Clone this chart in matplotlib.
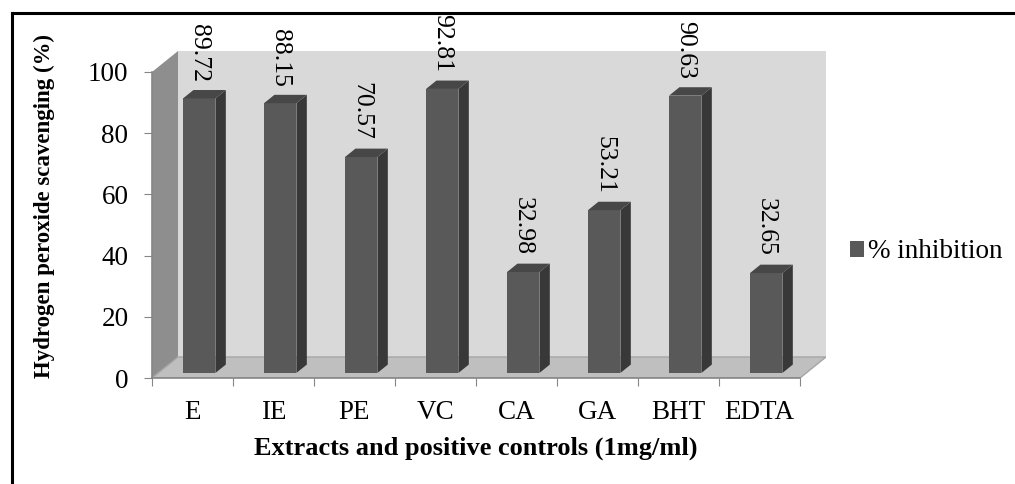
import matplotlib
matplotlib.use("Agg")
import matplotlib.pyplot as plt
from matplotlib.patches import Polygon
from matplotlib.lines import Line2D

# dados
categorias = ["E", "IE", "PE", "VC", "CA", "GA", "BHT", "EDTA"]
inibicao = [89.72, 88.15, 70.57, 92.81, 32.98, 53.21, 90.63, 32.65]
rotulos = ["89.72", "88.15", "70.57", "92.81", "32.98", "53.21", "90.63", "32.65"]
serie = "% inhibition"
yticks = [0, 20, 40, 60, 80, 100]

plt.rcParams["font.family"] = ["Liberation Serif", "DejaVu Serif"]

W, H = 1015, 484
fig = plt.figure(figsize=(W / 100, H / 100), dpi=100)

# eixo principal em pixels: x de 152 a 826, y de 378 a 51
ax = fig.add_axes([152 / W, (H - 378) / H, 674 / W, 327 / H])
ax.set_facecolor("none")

n = len(categorias)
DX, DY = 0.321, 6.86          # profundidade do "3D"
f1, f2 = 0.24, 0.64           # frente / fundo das barras
a, w = 0.306, 0.40            # posição e largura da face frontal
fs = 19.5

ax.set_xlim(0, n + DX)
ax.set_ylim(0, 100 + DY)

# paredes e chão
ax.add_patch(Polygon([(DX, DY), (n + DX, DY), (n + DX, 100 + DY), (DX, 100 + DY)],
                     closed=True, facecolor="#d9d9d9", edgecolor="none", zorder=0))
ax.add_patch(Polygon([(0, 0), (DX, DY), (DX, 100 + DY), (0, 100)],
                     closed=True, facecolor="#8e8e8e", edgecolor="none", zorder=0))
ax.add_patch(Polygon([(0, 0), (n, 0), (n + DX, DY), (DX, DY)],
                     closed=True, facecolor="#bfbfbf", edgecolor="#a6a6a6", lw=1, zorder=0))

# barras (face frontal) + lateral e topo
xs = [i + a + f1 * DX + w / 2 for i in range(n)]
ax.bar(xs, inibicao, width=w, bottom=f1 * DY, color="#595959", label=serie, zorder=2)
d = f2 - f1
for x, v in zip(xs, inibicao):
    xl, xr = x - w / 2, x + w / 2
    y0, y1 = f1 * DY, f1 * DY + v
    ax.add_patch(Polygon([(xr, y0), (xr + d * DX, y0 + d * DY), (xr + d * DX, y1 + d * DY), (xr, y1)],
                         closed=True, facecolor="#383838", edgecolor="none", zorder=2))
    ax.add_patch(Polygon([(xl, y1), (xr, y1), (xr + d * DX, y1 + d * DY), (xl + d * DX, y1 + d * DY)],
                         closed=True, facecolor="#474747", edgecolor="none", zorder=2))

# rótulos de valor
for x, v, t in zip(xs, inibicao, rotulos):
    ax.annotate(t, (x, v + f2 * DY), xytext=(0, 6), textcoords="offset points",
                rotation=270, ha="center", va="bottom", fontsize=18.5, annotation_clip=False)

# eixos
for s in ["top", "right"]:
    ax.spines[s].set_visible(False)
ax.spines["left"].set_bounds(0, 100)
ax.spines["bottom"].set_bounds(0, n)
for s in ["left", "bottom"]:
    ax.spines[s].set_color("#868686")
    ax.spines[s].set_linewidth(1.2)

ax.set_yticks(yticks)
ax.tick_params(axis="y", length=6, color="#868686", labelsize=fs, pad=11)
ax.set_xticks(range(n + 1))
ax.set_xticklabels([])
ax.set_xticks([i + 0.5 for i in range(n)], minor=True)
ax.set_xticklabels(categorias, minor=True)
ax.tick_params(axis="x", which="major", length=6, color="#868686")
ax.tick_params(axis="x", which="minor", length=0, labelsize=fs, pad=16)

fig.text(44 / W, 1 - 206 / H, "Hydrogen peroxide scavenging (%)", rotation=90,
         ha="center", va="center", fontsize=16.5, fontweight="bold")
fig.text(476 / W, 1 - 448 / H, "Extracts and positive controls (1mg/ml)",
         ha="center", va="center", fontsize=19, fontweight="bold")

ax.legend(loc="center left", bbox_to_anchor=(836 / W, 1 - 252 / H),
          bbox_transform=fig.transFigure, frameon=False, fontsize=fs,
          handlelength=0.55, handleheight=0.55, handletextpad=0.15, borderpad=0)

# moldura
fig.add_artist(Line2D([12 / W, 1], [1 - 13 / H, 1 - 13 / H], color="black", lw=2.2))
fig.add_artist(Line2D([12 / W, 12 / W], [1 - 13 / H, 0], color="black", lw=2.2))

fig.savefig("out.png", dpi=100)
